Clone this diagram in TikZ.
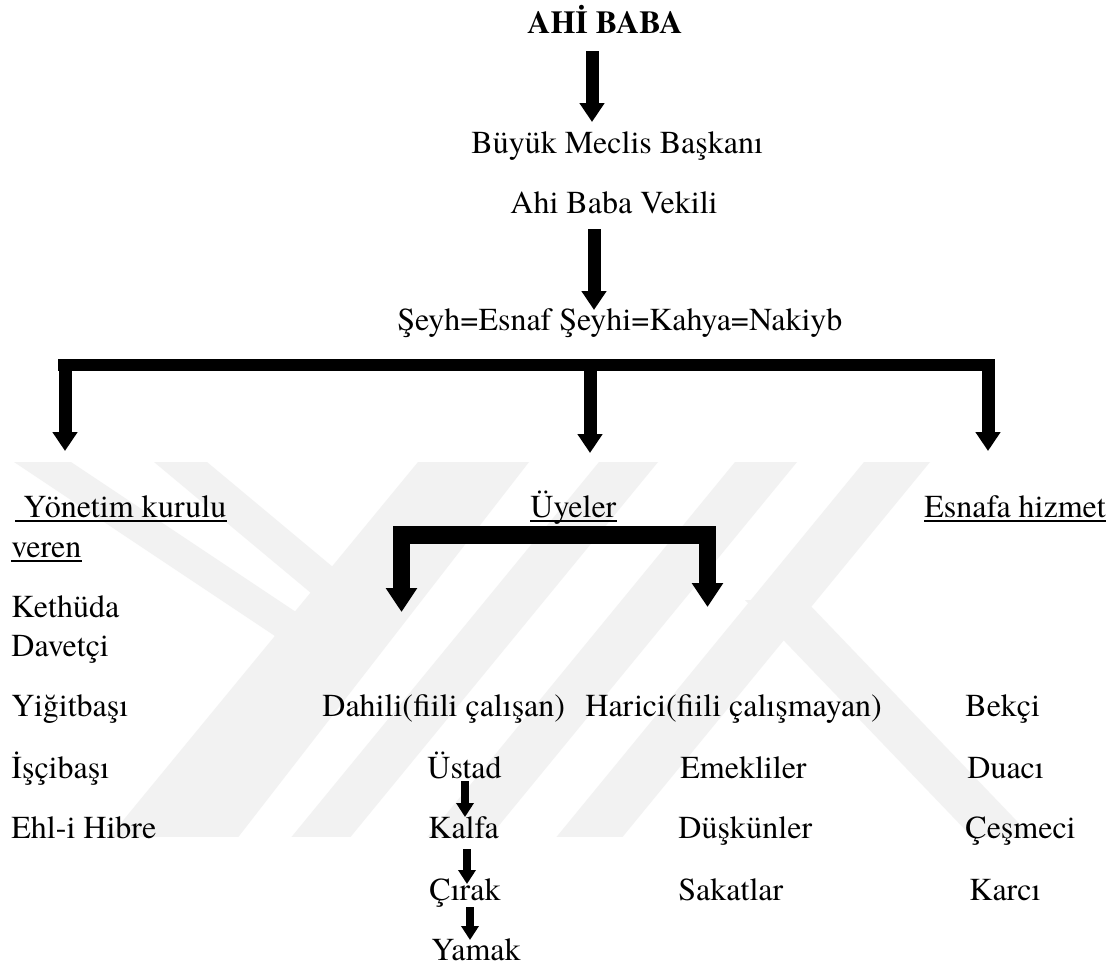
\documentclass[tikz,border=0pt]{standalone}
\usepackage{fontspec}
\setmainfont{TeX Gyre Termes}
\usetikzlibrary{arrows.meta}
\definecolor{wmgray}{HTML}{F2F2F2}
\tikzset{
  txt/.style={anchor=base west, inner sep=0pt, font=\fontsize{16}{19}\selectfont},
  ctxt/.style={txt, anchor=base},
  bigarrow/.style={line width=6.5pt, -{Triangle[width=12pt,length=9.5pt]}},
  droparrow/.style={line width=8.5pt, -{Triangle[width=15pt,length=12pt]}},
  smallarrow/.style={line width=4pt, -{Triangle[width=8.5pt,length=7pt]}},
  barline/.style={line width=6pt},
  ubarline/.style={line width=9pt, line join=round},
  ul/.style={line width=1pt},
  wm/.style={fill=wmgray}
}
\begin{document}
\begin{tikzpicture}[x=0.5pt,y=-0.5pt]
\useasboundingbox (0,0) rectangle (1117,969);
\fill[white] (0,0) rectangle (1117,969);
% watermark
\begin{scope}
\clip (0,462) rectangle (1117,836);
\fill[wm] (14,462) -- (71,462) -- (368,660) -- (311,660) -- cycle;
\fill[wm] (154,462) -- (207,462) -- (364,593) -- (311,593) -- cycle;
\fill[wm] (418,462) -- (529,462) -- (236,840) -- (107,840) -- cycle;
\fill[wm] (599,462) -- (658,462) -- (348,840) -- (289,840) -- cycle;
\fill[wm] (735,462) -- (797,462) -- (487,840) -- (425,840) -- cycle;
\fill[wm] (864,462) -- (930,462) -- (620,840) -- (554,840) -- cycle;
\fill[wm] (745,600) -- (805,600) -- (1035,840) -- (975,840) -- cycle;
\end{scope}
% texts
\node[ctxt, font=\fontsize{16}{19}\selectfont\bfseries] (ahi) at (605,33) {AHİ BABA};
\node[txt] (bmb) at (471,153) {Büyük Meclis Başkanı};
\node[ctxt] (abv) at (614,213) {Ahi Baba Vekili};
\node[txt] (seyh) at (397,330) {Şeyh=Esnaf Şeyhi=Kahya=Nakiyb};
\node[txt] (yon) at (15,517) {\ Yönetim kurulu};
\node[txt] (ver) at (11,557) {veren};
\node[txt] (uye) at (530,517) {Üyeler};
\node[txt] (esn) at (924,517) {Esnafa hizmet};
\node[txt] (keth) at (11,617) {Kethüda};
\node[txt] (dav) at (11,656) {Davetçi};
\node[txt] (yig) at (11,716) {Yiğitbaşı};
\node[txt] (isci) at (11,778) {İşçibaşı};
\node[txt] (ehl) at (11,838) {Ehl-i Hibre};
\node[txt] (dah) at (322,716) {Dahili(fiili çalışan)};
\node[txt] (har) at (585,716) {Harici(fiili çalışmayan)};
\node[txt] (bek) at (965,716) {Bekçi};
\node[txt] (ust) at (427,778) {Üstad};
\node[txt] (emek) at (680,778) {Emekliler};
\node[txt] (dua) at (967,778) {Duacı};
\node[txt] (kal) at (428,838) {Kalfa};
\node[txt] (dus) at (678,838) {Düşkünler};
\node[txt] (ces) at (965,838) {Çeşmeci};
\node[txt] (cir) at (429,900) {Çırak};
\node[txt] (sak) at (678,900) {Sakatlar};
\node[txt] (kar) at (969,900) {Karcı};
\node[txt] (yam) at (431,960) {Yamak};
% underlines
\foreach \n in {yon,ver,uye,esn}
  \draw[ul] ([yshift=-1.8pt]\n.base west) -- ([yshift=-1.8pt]\n.base east);
% connector points
\coordinate (a1s) at (592,51);  \coordinate (a1e) at (592,122);
\coordinate (a2s) at (594,229); \coordinate (a2e) at (594,310);
\coordinate (bl) at (58,365);   \coordinate (br) at (995,365);
\coordinate (d1s) at (65,359);  \coordinate (d1e) at (65,451);
\coordinate (d2s) at (590,365); \coordinate (d2e) at (590,453);
\coordinate (d3s) at (988,359); \coordinate (d3e) at (988,451);
\coordinate (ubl) at (393,535); \coordinate (ubr) at (716,535);
\coordinate (u1s) at (401.5,530); \coordinate (u1e) at (401.5,612);
\coordinate (u2s) at (707.5,530); \coordinate (u2e) at (707.5,607);
\coordinate (s1s) at (465,781); \coordinate (s1e) at (465,817);
\coordinate (s2s) at (467,849); \coordinate (s2e) at (467,884);
\coordinate (s3s) at (470,907); \coordinate (s3e) at (470,940);
% arrows
\draw[bigarrow] (a1s) -- (a1e);
\draw[bigarrow] (a2s) -- (a2e);
\draw[barline] (bl) -- (br);
\draw[bigarrow] (d1s) -- (d1e);
\draw[bigarrow] (d2s) -- (d2e);
\draw[bigarrow] (d3s) -- (d3e);
\draw[ubarline] (ubl) -- (ubr);
\draw[droparrow] (u1s) -- (u1e);
\draw[droparrow] (u2s) -- (u2e);
\draw[smallarrow] (s1s) -- (s1e);
\draw[smallarrow] (s2s) -- (s2e);
\draw[smallarrow] (s3s) -- (s3e);
\end{tikzpicture}
\end{document}
